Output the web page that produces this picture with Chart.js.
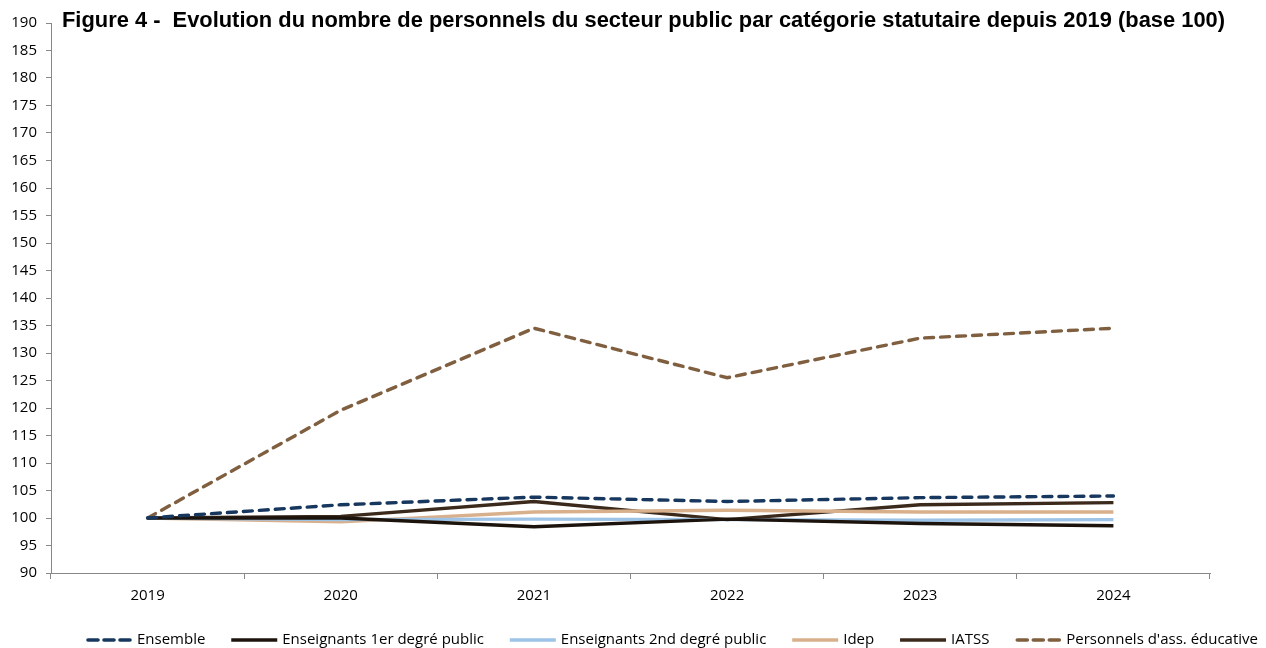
<!DOCTYPE html>
<html><head><meta charset="utf-8">
<script src="https://cdn.jsdelivr.net/npm/chart.js@4.4.1/dist/chart.umd.min.js"></script>
<style>html,body{margin:0;padding:0;background:#fff}#wrap{width:1266px;height:648px;position:relative}</style>
</head><body><div id="wrap"><canvas id="c" width="1266" height="648"></canvas></div>
<script>
const categories = ["2019","2020","2021","2022","2023","2024"];
const ensemble = [100, 102.4, 103.8, 103.0, 103.7, 104.0];
const ens1er = [100, 100.0, 98.4, 99.8, 99.0, 98.6];
const ens2nd = [100, 99.7, 99.8, 99.7, 99.6, 99.7];
const idep = [100, 99.3, 101.1, 101.4, 101.1, 101.1];
const iatss = [100, 100.3, 103.0, 99.7, 102.4, 102.8];
const personnels = [100, 119.6, 134.5, 125.5, 132.7, 134.5];
const yTicks = {min: 90, max: 190, step: 5};
const titleText = "Figure 4 -  Evolution du nombre de personnels du secteur public par catégorie statutaire depuis 2019 (base 100)";

const baseFont = "'Open Sans', 'Noto Sans', sans-serif";
function ds(label, data, color, dash){
  return {label, data, borderColor: color, backgroundColor: color, borderWidth: 3.4,
    borderDash: dash || [], borderCapStyle: dash ? 'round' : 'butt', pointRadius: 0, tension: 0, fill: false};
}
const titlePlugin = {
  id: 'titleText',
  afterDraw(chart){
    const ctx = chart.ctx;
    ctx.save();
    ctx.font = "bold 22px 'Liberation Sans', Arial, sans-serif";
    ctx.fillStyle = '#000';
    ctx.textBaseline = 'middle';
    ctx.textAlign = 'left';
    const w = ctx.measureText(titleText).width;
    const target = 1163;
    ctx.translate(62, 21);
    ctx.scale(Math.min(1.05, target / w), 1);
    ctx.fillText(titleText, 0, 0);
    ctx.restore();
  }
};
const legendPlugin = {
  id: 'customLegend',
  afterDraw(chart){
    const ctx = chart.ctx;
    ctx.save();
    ctx.font = "15px " + baseFont;
    ctx.textBaseline = 'middle';
    const lineW = 46, gapBT = 5, startX = 86, endX = 1258, y = 640;
    const items = chart.data.datasets.map(d => ({d, tw: ctx.measureText(d.label).width}));
    const sum = items.reduce((a, it) => a + lineW + gapBT + it.tw, 0);
    const gap = (endX - startX - sum) / (items.length - 1);
    let x = startX;
    items.forEach(it => {
      ctx.save();
      ctx.strokeStyle = it.d.borderColor;
      ctx.lineWidth = 3.6;
      if (it.d.borderDash.length) { ctx.setLineDash([10, 6]); ctx.lineCap = 'round'; ctx.beginPath(); ctx.moveTo(x + 2, y); ctx.lineTo(x + lineW - 2, y); }
      else { ctx.lineCap = 'butt'; ctx.beginPath(); ctx.moveTo(x, y); ctx.lineTo(x + lineW, y); }
      ctx.stroke();
      ctx.restore();
      ctx.fillStyle = '#000';
      ctx.fillText(it.d.label, x + lineW + gapBT, y);
      x += lineW + gapBT + it.tw + gap;
    });
    ctx.restore();
  }
};
new Chart(document.getElementById('c'), {
  type: 'line',
  data: {
    labels: categories,
    datasets: [
      ds('Ensemble', ensemble, '#17375E', [9, 7]),
      ds('Enseignants 1er degré public', ens1er, '#1C140C'),
      ds('Enseignants 2nd degré public', ens2nd, '#9DC3E6'),
      ds('Idep', idep, '#D9B08C'),
      ds('IATSS', iatss, '#3B2A1C'),
      ds('Personnels d\'ass. éducative', personnels, '#7F5F3F', [9, 7])
    ]
  },
  options: {
    responsive: false, animation: false,
    layout: {padding: {top: 23, right: 56, left: 0, bottom: 35}},
    plugins: {
      title: {display: false},
      tooltip: {enabled: false},
      legend: {display: false}
    },
    scales: {
      x: {
        offset: true,
        grid: {display: true, drawOnChartArea: false, offset: true, tickLength: 6, color: '#888'},
        border: {color: '#888', width: 1},
        ticks: {color: '#000', font: {family: baseFont, size: 15}, padding: 8, maxRotation: 0}
      },
      y: {
        min: yTicks.min, max: yTicks.max,
        afterFit(s){ s.width = 51; },
        grid: {display: true, drawOnChartArea: false, tickLength: 5, color: '#888'},
        border: {color: '#888', width: 1},
        ticks: {stepSize: yTicks.step, color: '#000', font: {family: baseFont, size: 15}, padding: 9}
      }
    }
  },
  plugins: [titlePlugin, legendPlugin]
});
</script></body></html>
